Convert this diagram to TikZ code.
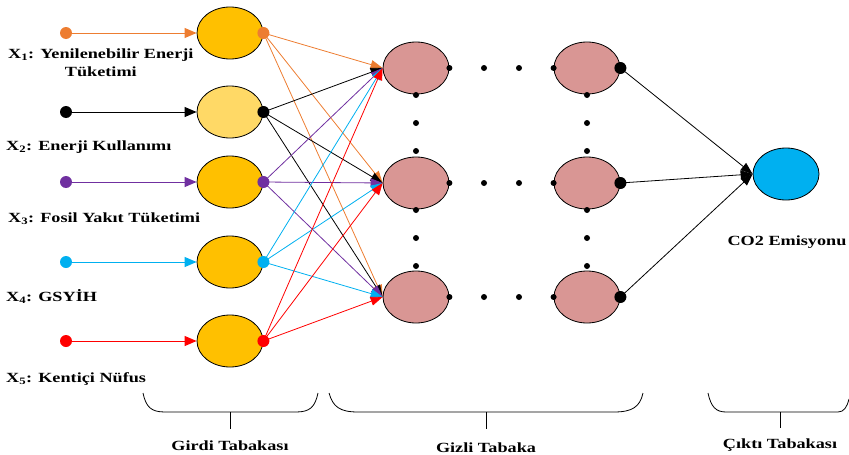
\documentclass[tikz,border=0pt]{standalone}
\usepackage{fontspec}
\newfontfamily\lblfont{Liberation Serif}[FakeStretch=1.3]
\usetikzlibrary{shapes.geometric, arrows.meta}
\definecolor{xorange}{HTML}{ED7D31}
\definecolor{xpurple}{HTML}{7030A0}
\definecolor{xcyan}{HTML}{00B0F0}
\definecolor{xred}{HTML}{FF0000}
\definecolor{gold}{HTML}{FFC000}
\definecolor{lightgold}{HTML}{FFD966}
\definecolor{rose}{HTML}{D99694}

\begin{document}
\begin{tikzpicture}[x=1pt, y=-1pt,
    neuron/.style={ellipse, draw=black, line width=0.8pt, minimum width=66pt, minimum height=52pt, inner sep=0pt},
    bigdot/.style={circle, fill=#1, minimum size=12pt, inner sep=0pt},
    smalldot/.style={circle, fill=black, minimum size=6pt, inner sep=0pt},
    link/.style={#1, line width=0.8pt, -{Triangle[length=12pt, width=9pt]}},
    layertext/.style={font=\lblfont\bfseries\fontsize{14}{18}\selectfont, inner sep=0pt}
]
\useasboundingbox (0,0) rectangle (849,455);

% input layer
\foreach \i/\y/\c/\f in {1/33/xorange/gold, 2/112/black/lightgold, 3/182/xpurple/gold, 4/262/xcyan/gold, 5/341/xred/gold} {
    \node at (230,\y) [neuron, fill=\f] (in\i) {};
    \node at (66,\y) [bigdot=\c] (src\i) {};
    \draw[\c, line width=1pt, -{Triangle[length=12pt, width=10pt]}] (src\i.center) -- (in\i.west);
}

% hidden layer
\foreach \j/\y in {1/68, 2/183, 3/297} {
    \node at (416,\y) [neuron, fill=rose] (ha\j) {};
    \node at (587,\y) [neuron, fill=rose] (hb\j) {};
}

% output layer
\node at (786,174) [neuron, fill=xcyan] (out) {};

% input -> hidden
\foreach \i/\c in {1/xorange, 2/black, 3/xpurple, 4/xcyan, 5/xred} {
    \foreach \j in {1,2,3}
        \draw[link=\c] (in\i.east) -- (ha\j.west);
    \node at (in\i.east) [bigdot=\c] (out\i) {};
}

% dots between hidden neurons
\foreach \j/\y in {1/68, 2/183, 3/297} {
    \node at (ha\j.east) [smalldot] (ea\j) {};
    \node at (484,\y) [smalldot] (ma\j) {};
    \node at (519,\y) [smalldot] (mb\j) {};
    \node at (hb\j.west) [smalldot] (wb\j) {};
    \draw[link=black] (hb\j.east) -- (out.west);
    \node at (hb\j.east) [bigdot=black] (eb\j) {};
}
\foreach \y in {68,183} {
    \foreach \d in {27,55,83} {
        \node at (416,{\y+\d}) [smalldot] {};
        \node at (587,{\y+\d}) [smalldot] {};
    }
}

% labels
\node at (8,76) [layertext, anchor=base west, align=center] (x1) {X\textsubscript{1}: Yenilenebilir Enerji\\Tüketimi};
\node at (6,150) [layertext, anchor=base west] (x2) {X\textsubscript{2}: Enerji Kullanımı};
\node at (8,222) [layertext, anchor=base west] (x3) {X\textsubscript{3}: Fosil Yakıt Tüketimi};
\node at (6,301) [layertext, anchor=base west] (x4) {X\textsubscript{4}: GSYİH};
\node at (6,382) [layertext, anchor=base west] (x5) {X\textsubscript{5}: Kentiçi Nüfus};
\node at (787,245) [layertext, anchor=base] (co2) {CO2 Emisyonu};

% braces
\draw[line width=0.8pt] (143,393) .. controls (146,407) and (151,412) .. (165,412) -- (296,412) .. controls (310,412) and (315,407) .. (318,393);
\draw[line width=0.8pt] (230,412) -- (230,429);
\draw[line width=0.8pt] (329,393) .. controls (333,407) and (340,412) .. (358,412) -- (614,412) .. controls (632,412) and (640,407) .. (643,393);
\draw[line width=0.8pt] (486,412) -- (486,429);
\draw[line width=0.8pt] (708,393) .. controls (711,407) and (716,412) .. (726,412) -- (838,412) .. controls (844,412) and (847,407) .. (849,399);
\draw[line width=0.8pt] (780,412) -- (780,428);

\node at (230,450) [layertext, anchor=base] (girdi) {Girdi Tabakası};
\node at (486,452) [layertext, anchor=base] (gizli) {Gizli Tabaka};
\node at (780,448) [layertext, anchor=base] (cikti) {Çıktı Tabakası};
\end{tikzpicture}
\end{document}
